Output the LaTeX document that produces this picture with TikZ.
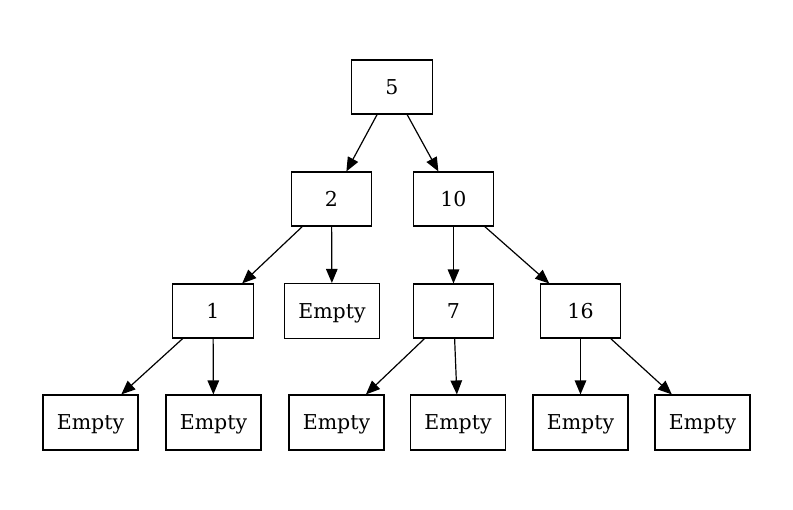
\documentclass[tikz,border=0pt]{standalone}
\usepackage{fontspec}
\setmainfont{DejaVu Serif}
\usetikzlibrary{arrows.meta}
\begin{document}
\begin{tikzpicture}[x=1pt,y=-1pt,
  treenode/.style={draw=black, line width=1.1pt, rectangle, inner sep=0pt,
    minimum width=80.5pt, minimum height=54pt,
    text height=14.8pt, text depth=0pt,
    font=\fontsize{20.5}{24}\selectfont},
  leafnode/.style={treenode, minimum width=95pt, minimum height=55pt},
  edge/.style={draw=black, line width=1.2pt,
    -{Triangle[length=14pt,width=11.5pt]}}]
  \useasboundingbox (0,0) rectangle (793,510);
  % internal nodes
  \node[treenode] (n5)  at (392,87)    {5};
  \node[treenode] (n2)  at (331.5,199) {2};
  \node[treenode] (n10) at (453.5,199) {10};
  \node[treenode] (n1)  at (213,311)   {1};
  \node[leafnode] (e2)  at (332,311)   {Empty};
  \node[treenode] (n7)  at (453.5,311) {7};
  \node[treenode] (n16) at (580.5,311) {16};
  % leaves
  \node[leafnode] (e1a)  at (90.5,422.5)  {Empty};
  \node[leafnode] (e1b)  at (213.5,422.5) {Empty};
  \node[leafnode] (e7a)  at (336.5,422.5) {Empty};
  \node[leafnode] (e7b)  at (458,422.5)   {Empty};
  \node[leafnode] (e16a) at (580.5,422.5) {Empty};
  \node[leafnode] (e16b) at (702.5,422.5) {Empty};
  % edges
  \draw[edge] (n5) -- (n2);
  \draw[edge] (n5) -- (n10);
  \draw[edge] (n2) -- (n1);
  \draw[edge] (n2) -- (e2);
  \draw[edge] (n10) -- (n7);
  \draw[edge] (n10) -- (n16);
  \draw[edge] (n1) -- (e1a);
  \draw[edge] (n1) -- (e1b);
  \draw[edge] (n7) -- (e7a);
  \draw[edge] (n7) -- (e7b);
  \draw[edge] (n16) -- (e16a);
  \draw[edge] (n16) -- (e16b);
\end{tikzpicture}
\end{document}
